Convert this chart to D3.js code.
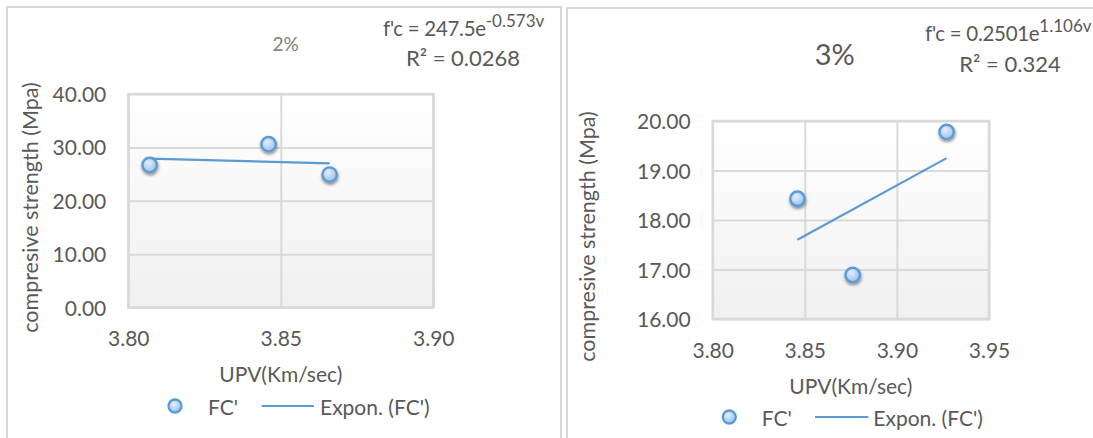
<!DOCTYPE html>
<html><head><meta charset="utf-8">
<script src="https://cdn.jsdelivr.net/npm/d3@7"></script>
<style>
html,body{margin:0;padding:0;background:#fff;}
svg{display:block;font-family:Lato, "Open Sans", sans-serif;}
</style></head>
<body>
<svg id="c" width="1093" height="438"></svg>
<script>
// ---- data ----
const titles = ["2%", "3%"];
const equations = ["f'c = 247.5e", "f'c = 0.2501e"];
const exponents = ["-0.573v", "1.106v"];
const rSquared = ["R² = 0.0268", "R² = 0.324"];
const xTitle = "UPV(Km/sec)";
const yTitle = "compresive strength (Mpa)";
const seriesName = "FC'";
const trendName = "Expon. (FC')";

const upv2 = [3.807, 3.846, 3.866];
const fc2 = [26.7, 30.6, 24.9];
const trendUpv2 = [3.807, 3.866];
const trendFc2 = [27.9, 27.0];
const xTicks2 = [3.80, 3.85, 3.90];
const yTicks2 = [0, 10, 20, 30, 40];

const upv3 = [3.846, 3.876, 3.927];
const fc3 = [18.43, 16.89, 19.78];
const trendUpv3 = [3.846, 3.927];
const trendFc3 = [17.6, 19.25];
const xTicks3 = [3.80, 3.85, 3.90, 3.95];
const yTicks3 = [16, 17, 18, 19, 20];

// ---- layout ----
const TXT = "#595959", GRID = "#d9d9d9", BLUE = "#5b9bd5";
const svg = d3.select("#c");
const defs = svg.append("defs");
const bg = defs.append("linearGradient").attr("id","plotbg").attr("x1",0).attr("y1",0).attr("x2",0).attr("y2",1);
bg.append("stop").attr("offset","0%").attr("stop-color","#ffffff");
bg.append("stop").attr("offset","100%").attr("stop-color","#f0f0f0");
const mg = defs.append("radialGradient").attr("id","mk").attr("cx","40%").attr("cy","35%").attr("r","70%");
mg.append("stop").attr("offset","0%").attr("stop-color","#e4eefa");
mg.append("stop").attr("offset","100%").attr("stop-color","#95bfe8");
const sh = defs.append("filter").attr("id","shadow").attr("x","-50%").attr("y","-50%").attr("width","200%").attr("height","200%");
sh.append("feDropShadow").attr("dx",0.5).attr("dy",2).attr("stdDeviation",1.6).attr("flood-color","#000").attr("flood-opacity",0.45);

const panels = [
  {frame:[7,7,554,460], plot:{x0:128.3,x1:433.3,y0:94,y1:307.5},
   xDom:[3.80,3.90], yDom:[0,40], xt:xTicks2, yt:yTicks2,
   px:upv2, py:fc2, tx:trendUpv2, ty:trendFc2,
   title:{t:titles[0], x:285.7, y:43, size:19, color:"#808080"},
   eq:{x:383, y:28, r2x:463, r2y:57},
   yTitle:{x:30, y:207.5}, xTitle:{y:373}, legend:{y:406, cx:175, t1:208, l0:261.7, l1:314, t2:320},
   eqi:0},
  {frame:[567,8,560,460], plot:{x0:712.7,x1:989,y0:121,y1:319},
   xDom:[3.80,3.95], yDom:[16,20], xt:xTicks3, yt:yTicks3,
   px:upv3, py:fc3, tx:trendUpv3, ty:trendFc3,
   title:{t:titles[1], x:834.8, y:53.3, size:29, color:TXT},
   eq:{x:925, y:33, r2x:1010, r2y:63},
   yTitle:{x:586.7, y:236.5}, xTitle:{y:385}, legend:{y:417, cx:729.3, t1:761.7, l0:815, l1:868.3, t2:873.3},
   eqi:1}
];

panels.forEach(p => {
  const g = svg.append("g");
  g.append("rect").attr("x",p.frame[0]).attr("y",p.frame[1]).attr("width",p.frame[2]).attr("height",p.frame[3])
    .attr("fill","#fff").attr("stroke",GRID).attr("stroke-width",2);
  const x = d3.scaleLinear().domain(p.xDom).range([p.plot.x0,p.plot.x1]);
  const y = d3.scaleLinear().domain(p.yDom).range([p.plot.y1,p.plot.y0]);

  g.append("rect").attr("x",p.plot.x0).attr("y",p.plot.y0)
    .attr("width",p.plot.x1-p.plot.x0).attr("height",p.plot.y1-p.plot.y0).attr("fill","url(#plotbg)");

  const gy = g.append("g").attr("transform",`translate(${p.plot.x0},0)`)
    .call(d3.axisLeft(y).tickValues(p.yt).tickSize(-(p.plot.x1-p.plot.x0)).tickFormat(d3.format(".2f")).tickPadding(22));
  gy.select(".domain").remove();
  gy.selectAll("line").attr("stroke",GRID).attr("stroke-width",2);
  gy.selectAll("text").attr("fill",TXT).attr("font-size",21).attr("font-family","Lato").attr("dy","0.36em");

  const gx = g.append("g").attr("transform",`translate(0,${p.plot.y1})`)
    .call(d3.axisBottom(x).tickValues(p.xt).tickSize(-(p.plot.y1-p.plot.y0)).tickFormat(d3.format(".2f")).tickPadding(0));
  gx.select(".domain").remove();
  gx.selectAll("line").attr("stroke",GRID).attr("stroke-width",2);
  gx.selectAll("text").attr("fill",TXT).attr("font-size",21).attr("font-family","Lato").attr("dy","0").attr("y",30).attr("dominant-baseline","central");

  g.append("rect").attr("x",p.plot.x0).attr("y",p.plot.y0)
    .attr("width",p.plot.x1-p.plot.x0).attr("height",p.plot.y1-p.plot.y0)
    .attr("fill","none").attr("stroke",GRID).attr("stroke-width",2.5);

  const tpts = p.tx.map((v,i)=>[v,p.ty[i]]);
  g.append("path").datum(tpts).attr("d",d3.line().x(d=>x(d[0])).y(d=>y(d[1])))
    .attr("fill","none").attr("stroke",BLUE).attr("stroke-width",2.2);

  const pts = p.px.map((v,i)=>[v,p.py[i]]);
  g.selectAll("circle.pt").data(pts).join("circle").attr("class","pt")
    .attr("cx",d=>x(d[0])).attr("cy",d=>y(d[1])).attr("r",7.2)
    .attr("fill","url(#mk)").attr("stroke",BLUE).attr("stroke-width",2.4).attr("filter","url(#shadow)");

  g.append("text").attr("x",p.title.x).attr("y",p.title.y).attr("text-anchor","middle")
    .attr("dominant-baseline","central").attr("font-size",p.title.size).attr("fill",p.title.color).text(p.title.t);

  const eq = g.append("text").attr("x",p.eq.x).attr("y",p.eq.y).attr("dominant-baseline","central")
    .attr("font-size",20.5).attr("fill",TXT).attr("letter-spacing",-0.3);
  eq.append("tspan").text(equations[p.eqi]);
  eq.append("tspan").attr("font-size",17).attr("dy",-8).attr("letter-spacing",0).text(exponents[p.eqi]);
  g.append("text").attr("x",p.eq.r2x).attr("y",p.eq.r2y).attr("text-anchor","middle").attr("dominant-baseline","central")
    .attr("font-size",22).attr("fill",TXT).text(rSquared[p.eqi]);

  g.append("text").attr("x",(p.plot.x0+p.plot.x1)/2).attr("y",p.xTitle.y).attr("text-anchor","middle")
    .attr("dominant-baseline","central").attr("font-size",21).attr("fill",TXT).text(xTitle);
  g.append("text").attr("transform",`translate(${p.yTitle.x},${p.yTitle.y}) rotate(-90)`).attr("text-anchor","middle")
    .attr("dominant-baseline","central").attr("font-size",21.5).attr("fill",TXT).text(yTitle);

  const L = p.legend;
  g.append("circle").attr("cx",L.cx).attr("cy",L.y).attr("r",6.5).attr("fill","url(#mk)").attr("stroke",BLUE).attr("stroke-width",2.3);
  g.append("text").attr("x",L.t1).attr("y",L.y).attr("dominant-baseline","central").attr("font-size",21).attr("fill",TXT).text(seriesName);
  g.append("line").attr("x1",L.l0).attr("x2",L.l1).attr("y1",L.y).attr("y2",L.y).attr("stroke",BLUE).attr("stroke-width",2.2);
  g.append("text").attr("x",L.t2).attr("y",L.y).attr("dominant-baseline","central").attr("font-size",21).attr("fill",TXT).text(trendName);
});
</script>
</body></html>
